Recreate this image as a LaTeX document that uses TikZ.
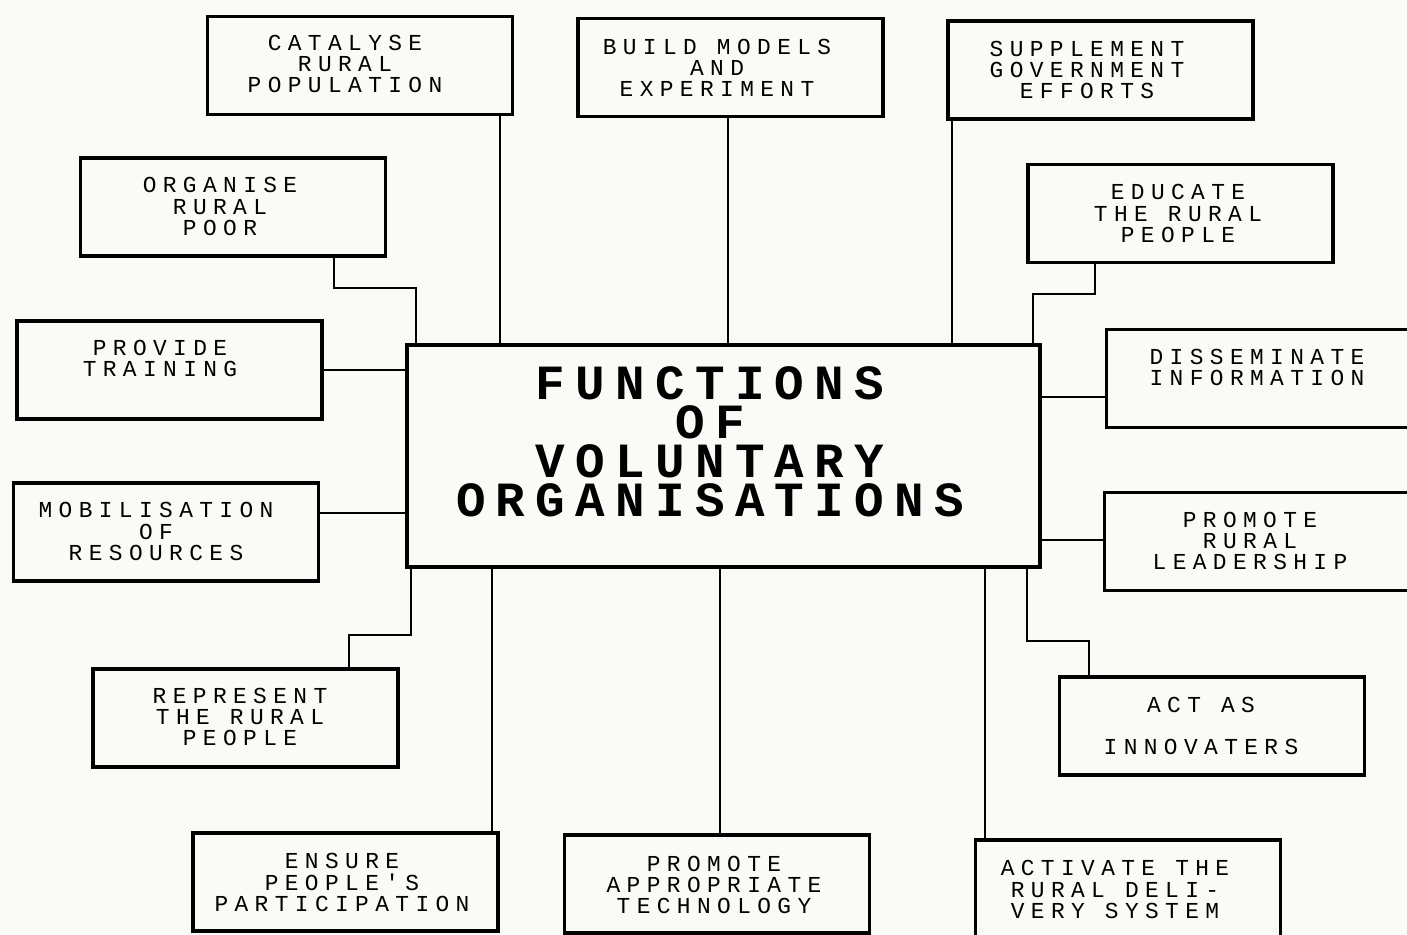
\documentclass[tikz,border=0pt]{standalone}
\usepackage{fontspec}
\usepackage{xcolor}
\usetikzlibrary{positioning}
\definecolor{papercolor}{RGB}{250,250,247}
\newfontfamily\dotfont[LetterSpace=28]{Liberation Mono}
\newfontfamily\bigdotfont[LetterSpace=21]{Liberation Mono}

\begin{document}
\begin{tikzpicture}[x=0.02cm, y=-0.02cm]
  \tikzset{
    func/.style={
      draw,
      line width=2.2pt,
      minimum width=6.1cm,
      minimum height=1.96cm
    },
    caption/.style={
      align=center,
      inner sep=0pt,
      font=\dotfont\fontsize{13}{12}\selectfont
    },
    hub/.style={
      draw,
      line width=2.4pt,
      minimum width=12.66cm,
      minimum height=4.44cm
    },
    title/.style={
      align=center,
      inner sep=0pt,
      font=\bigdotfont\bfseries\fontsize{28}{22.2}\selectfont
    },
    link/.style={
      line width=1pt
    }
  }

  % Paper
  \fill[papercolor] (0,0) rectangle (1407,934);
  \useasboundingbox (0,0) rectangle (1407,934);

  % Central box
  \node[hub] at (723.5,456) (hub) {};
  \node[title] at (710,441.5) (hub-text) {FUNCTIONS\\OF\\VOLUNTARY\\ORGANISATIONS};

  % Top row
  \node[func] at (360,65.5) (catalyse) {};
  \node[caption] at (345,64) (catalyse-text) {CATALYSE\\RURAL\\POPULATION};
  \node[func] at (730.5,67.5) (models) {};
  \node[caption] at (717,67.5) (models-text) {BUILD MODELS\\AND\\EXPERIMENT};
  \node[func] at (1100.5,70) (supplement) {};
  \node[caption] at (1087,70) (supplement-text) {SUPPLEMENT\\GOVERNMENT\\EFFORTS};

  % Left column
  \node[func] at (233,207) (organise) {};
  \node[caption] at (220,206.5) (organise-text) {ORGANISE\\RURAL\\POOR};
  \node[func] at (169.5,370) (training) {};
  \node[caption] at (160,358.5) (training-text) {PROVIDE\\TRAINING};
  \node[func] at (166,532) (resources) {};
  \node[caption] at (156,531.5) (resources-text) {MOBILISATION\\OF\\RESOURCES};
  \node[func] at (245.5,718) (represent) {};
  \node[caption] at (240,717) (represent-text) {REPRESENT\\THE RURAL\\PEOPLE};

  % Bottom row
  \node[func] at (345.5,882) (participation) {};
  \node[caption] at (342,882.5) (participation-text) {ENSURE\\PEOPLE'S\\PARTICIPATION};
  \node[func] at (717,884) (technology) {};
  \node[caption] at (714,885) (technology-text) {PROMOTE\\APPROPRIATE\\TECHNOLOGY};
  \node[func] at (1128,889) (delivery) {};
  \node[caption] at (1115,889.5) (delivery-text) {ACTIVATE THE\\RURAL DELI-\\VERY SYSTEM};

  % Right column
  \node[func] at (1180.5,213.5) (educate) {};
  \node[caption] at (1178,213.5) (educate-text) {EDUCATE\\THE RURAL\\PEOPLE};
  \node[func] at (1259,378.5) (information) {};
  \node[caption] at (1257,367.5) (information-text) {DISSEMINATE\\INFORMATION};
  \node[func] at (1257,541.5) (leadership) {};
  \node[caption] at (1250,541) (leadership-text) {PROMOTE\\RURAL\\LEADERSHIP};
  \node[func] at (1212,726) (innovaters) {};
  \node[caption] at (1201,726) (innovaters-text) {ACT AS\\[12pt]INNOVATERS};

  % Connectors
  \draw[link] (catalyse.south -| 500,0) -- (hub.north -| 500,0);
  \draw[link] (models.south -| 728,0) -- (hub.north -| 728,0);
  \draw[link] (supplement.south -| 952,0) -- (hub.north -| 952,0);
  \draw[link] (organise.south -| 334,0) -- (334,288) -- (416,288) -- (hub.north -| 416,0);
  \draw[link] (training.east |- 0,370) -- (hub.west |- 0,370);
  \draw[link] (resources.east |- 0,513) -- (hub.west |- 0,513);
  \draw[link] (represent.north -| 349,0) -- (349,635) -- (411,635) -- (hub.south -| 411,0);
  \draw[link] (participation.north -| 492,0) -- (hub.south -| 492,0);
  \draw[link] (technology.north -| 720,0) -- (hub.south -| 720,0);
  \draw[link] (delivery.north -| 985,0) -- (hub.south -| 985,0);
  \draw[link] (educate.south -| 1095,0) -- (1095,294) -- (1033,294) -- (hub.north -| 1033,0);
  \draw[link] (hub.east |- 0,397) -- (information.west |- 0,397);
  \draw[link] (hub.east |- 0,540) -- (leadership.west |- 0,540);
  \draw[link] (hub.south -| 1027,0) -- (1027,641) -- (1089,641) -- (innovaters.north -| 1089,0);
\end{tikzpicture}
\end{document}
